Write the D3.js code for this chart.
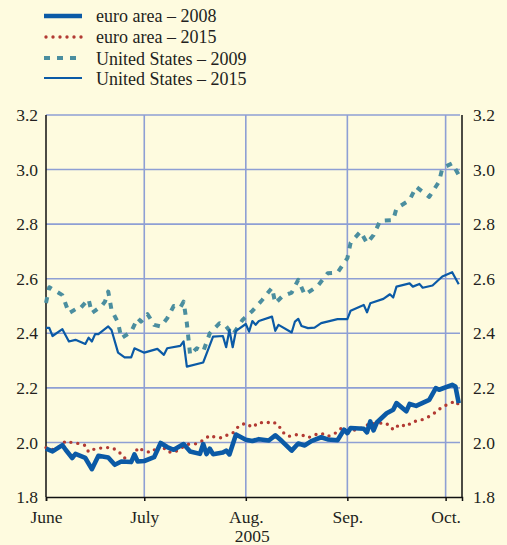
<!DOCTYPE html>
<html>
<head>
<meta charset="utf-8">
<script src="https://cdn.jsdelivr.net/npm/d3@7"></script>
<style>
  body { margin: 0; background: #fefbdf; }
  svg { display: block; }
  text { font-family: "Liberation Serif", "Times New Roman", serif; fill: #231f20; }
</style>
</head>
<body>
<div id="chart"></div>
<script>
// Series: [month-day in 2005, value]
const euro2008 = [
  ['06-01', 1.977], ['06-03', 1.967], ['06-06', 1.99], ['06-07', 1.973], ['06-09', 1.943],
  ['06-10', 1.958], ['06-13', 1.943], ['06-15', 1.902], ['06-17', 1.951], ['06-20', 1.945],
  ['06-22', 1.918], ['06-24', 1.93], ['06-27', 1.928], ['06-28', 1.956], ['06-29', 1.93],
  ['07-01', 1.932], ['07-04', 1.946], ['07-06', 1.998], ['07-08', 1.983], ['07-10', 1.973],
  ['07-13', 1.994], ['07-15', 1.967], ['07-18', 1.958], ['07-19', 1.994], ['07-20', 1.957],
  ['07-21', 1.977], ['07-22', 1.957], ['07-25', 1.963], ['07-26', 1.97], ['07-27', 1.956],
  ['07-29', 2.029], ['08-01', 2.01], ['08-03', 2.005], ['08-05', 2.012], ['08-08', 2.007],
  ['08-10', 2.026], ['08-12', 2.005], ['08-15', 1.97], ['08-17', 1.996], ['08-19', 1.989],
  ['08-21', 2.005], ['08-24', 2.019], ['08-26', 2.011], ['08-29', 2.008], ['08-31', 2.047],
  ['09-01', 2.034], ['09-02', 2.053], ['09-06', 2.05], ['09-07', 2.037], ['09-08', 2.077],
  ['09-09', 2.044], ['09-10', 2.073], ['09-13', 2.107], ['09-15', 2.12], ['09-16', 2.144],
  ['09-19', 2.114], ['09-20', 2.141], ['09-22', 2.134], ['09-26', 2.156], ['09-28', 2.199],
  ['09-29', 2.193], ['10-03', 2.211], ['10-04', 2.205], ['10-05', 2.144]
];

const euro2015 = [
  ['06-01', 1.981], ['06-03', 1.974], ['06-05', 1.984], ['06-07', 2.005], ['06-09', 1.999],
  ['06-11', 1.996], ['06-13', 1.989], ['06-14', 1.965], ['06-16', 1.977], ['06-19', 1.981],
  ['06-21', 1.981], ['06-23', 1.969], ['06-25', 1.943], ['06-27', 1.928], ['06-28', 1.951],
  ['06-29', 1.981], ['07-01', 1.969], ['07-03', 1.963], ['07-05', 1.981], ['07-06', 1.993],
  ['07-08', 1.966], ['07-10', 1.963], ['07-12', 1.977], ['07-14', 1.993], ['07-17', 1.995],
  ['07-19', 2.008], ['07-21', 2.026], ['07-23', 2.017], ['07-25', 2.017], ['07-27', 2.032],
  ['07-28', 2.034], ['07-30', 2.062], ['08-01', 2.07], ['08-03', 2.055], ['08-05', 2.074],
  ['08-07', 2.07], ['08-09', 2.077], ['08-11', 2.064], ['08-12', 2.04], ['08-14', 2.022],
  ['08-16', 2.028], ['08-18', 2.028], ['08-20', 2.017], ['08-22', 2.028], ['08-24', 2.034],
  ['08-26', 2.022], ['08-28', 2.031], ['08-30', 2.05], ['09-01', 2.043], ['09-04', 2.046],
  ['09-06', 2.056], ['09-08', 2.07], ['09-10', 2.067], ['09-12', 2.073], ['09-14', 2.062],
  ['09-15', 2.046], ['09-17', 2.067], ['09-19', 2.058], ['09-21', 2.077], ['09-23', 2.079],
  ['09-26', 2.095], ['09-28', 2.111], ['09-30', 2.131], ['10-02', 2.141], ['10-04', 2.152],
  ['10-05', 2.138]
];

const us2009 = [
  ['06-01', 2.511], ['06-02', 2.569], ['06-03', 2.562], ['06-06', 2.54], ['06-08', 2.474],
  ['06-10', 2.488], ['06-11', 2.486], ['06-14', 2.525], ['06-15', 2.474], ['06-18', 2.5],
  ['06-19', 2.516], ['06-20', 2.553], ['06-21', 2.486], ['06-23', 2.439], ['06-24', 2.382],
  ['06-27', 2.406], ['06-29', 2.455], ['06-30', 2.443], ['07-02', 2.47], ['07-04', 2.431],
  ['07-06', 2.425], ['07-08', 2.455], ['07-10', 2.5], ['07-12', 2.494], ['07-13', 2.516],
  ['07-14', 2.437], ['07-15', 2.321], ['07-17', 2.345], ['07-19', 2.333], ['07-21', 2.4],
  ['07-24', 2.437], ['07-26', 2.425], ['07-28', 2.394], ['07-31', 2.449], ['08-03', 2.482],
  ['08-06', 2.522], ['08-09', 2.567], ['08-10', 2.51], ['08-12', 2.534], ['08-15', 2.549],
  ['08-17', 2.596], ['08-19', 2.541], ['08-23', 2.574], ['08-26', 2.62], ['08-29', 2.622],
  ['09-01', 2.675], ['09-02', 2.732], ['09-05', 2.773], ['09-07', 2.73], ['09-09', 2.76],
  ['09-11', 2.812], ['09-15', 2.815], ['09-16', 2.858], ['09-20', 2.888], ['09-22', 2.937],
  ['09-26', 2.9], ['09-29', 2.956], ['09-30', 3.005], ['10-03', 3.023], ['10-05', 2.98]
];

const us2015 = [
  ['06-01', 2.42], ['06-02', 2.42], ['06-03', 2.39], ['06-06', 2.415], ['06-08', 2.37],
  ['06-10', 2.376], ['06-13', 2.361], ['06-14', 2.384], ['06-15', 2.37], ['06-16', 2.397],
  ['06-17', 2.397], ['06-20', 2.425], ['06-21', 2.412], ['06-23', 2.329], ['06-25', 2.312],
  ['06-27', 2.312], ['06-28', 2.345], ['07-01', 2.329], ['07-05', 2.343], ['07-07', 2.321],
  ['07-08', 2.345], ['07-12', 2.354], ['07-13', 2.37], ['07-14', 2.278], ['07-19', 2.293],
  ['07-22', 2.388], ['07-25', 2.39], ['07-26', 2.349], ['07-27', 2.412], ['07-28', 2.349],
  ['07-29', 2.409], ['08-01', 2.434], ['08-02', 2.406], ['08-03', 2.445], ['08-04', 2.431],
  ['08-05', 2.445], ['08-09', 2.461], ['08-10', 2.409], ['08-11', 2.431], ['08-15', 2.403],
  ['08-16', 2.443], ['08-17', 2.453], ['08-18', 2.427], ['08-20', 2.419], ['08-22', 2.421],
  ['08-24', 2.437], ['08-29', 2.452], ['09-01', 2.452], ['09-02', 2.483], ['09-06', 2.504],
  ['09-07', 2.477], ['09-08', 2.51], ['09-12', 2.526], ['09-14', 2.543], ['09-15', 2.531],
  ['09-16', 2.571], ['09-20', 2.583], ['09-21', 2.571], ['09-23', 2.581], ['09-24', 2.567],
  ['09-27', 2.575], ['09-30', 2.608], ['10-03', 2.624], ['10-05', 2.58]
];

const monthTicks = ['06-01', '07-01', '08-01', '09-01', '10-01'];
const monthLabels = ['June', 'July', 'Aug.', 'Sep.', 'Oct.'];
const yTicks = [1.8, 2.0, 2.2, 2.4, 2.6, 2.8, 3.0, 3.2];
const legendLabels = ['euro area – 2008', 'euro area – 2015', 'United States – 2009', 'United States – 2015'];

const parseDay = d3.timeParse('%Y-%m-%d');
const toDate = s => parseDay('2005-' + s);

const width = 507;
const height = 545;
const margin = { top: 115, right: 45, bottom: 48, left: 46 };
const innerWidth = width - margin.left - margin.right;
const innerHeight = height - margin.top - margin.bottom;

const svg = d3.select('#chart')
  .append('svg')
  .attr('width', width)
  .attr('height', height);

svg.append('rect')
  .attr('width', width)
  .attr('height', height)
  .attr('fill', '#fefbdf');

const g = svg.append('g')
  .attr('transform', `translate(${margin.left},${margin.top})`);

const x = d3.scaleTime()
  .domain([toDate('06-01'), toDate('10-06')])
  .range([0, innerWidth]);

const y = d3.scaleLinear()
  .domain([1.8, 3.2])
  .range([innerHeight, 0]);

const gridColor = '#8e9fd4';

// Horizontal gridlines
g.selectAll('.hgrid')
  .data(yTicks.filter(t => t > 1.8))
  .enter()
  .append('line')
  .attr('x1', 0)
  .attr('x2', innerWidth - 2)
  .attr('y1', d => y(d))
  .attr('y2', d => y(d))
  .attr('stroke', gridColor)
  .attr('stroke-width', 1.6);

// Vertical gridlines at month starts
g.selectAll('.vgrid')
  .data(monthTicks.slice(1))
  .enter()
  .append('line')
  .attr('x1', d => x(toDate(d)))
  .attr('x2', d => x(toDate(d)))
  .attr('y1', 0)
  .attr('y2', innerHeight)
  .attr('stroke', gridColor)
  .attr('stroke-width', 1.6);

// Frame: left, right, bottom in black
g.append('line')
  .attr('x1', 0).attr('x2', 0)
  .attr('y1', 0).attr('y2', innerHeight)
  .attr('stroke', '#111').attr('stroke-width', 1.5);
g.append('line')
  .attr('x1', innerWidth).attr('x2', innerWidth)
  .attr('y1', 0).attr('y2', innerHeight)
  .attr('stroke', '#111').attr('stroke-width', 1.5);

// Series styles
const series = [
  { data: euro2008, color: '#0b5aa6', width: 4.6, dash: null, cap: 'butt' },
  { data: euro2015, color: '#b23a33', width: 3.4, dash: '0 7', cap: 'round' },
  { data: us2009, color: '#4b8e9f', width: 4, dash: '6 7', cap: 'butt' },
  { data: us2015, color: '#0b5aa6', width: 2.2, dash: null, cap: 'butt' }
];

const line = d3.line()
  .x(d => x(toDate(d[0])))
  .y(d => y(d[1]));

// draw order: US lines first, euro on top
[series[2], series[3], series[1], series[0]].forEach(s => {
  g.append('path')
    .datum(s.data)
    .attr('d', line)
    .attr('fill', 'none')
    .attr('stroke', s.color)
    .attr('stroke-width', s.width)
    .attr('stroke-linejoin', 'round')
    .attr('stroke-linecap', s.cap)
    .attr('stroke-dasharray', s.dash);
});

// Bottom axis with month ticks
const xAxis = d3.axisBottom(x)
  .tickValues(monthTicks.map(toDate))
  .tickSize(4)
  .tickFormat((d, i) => monthLabels[i]);

const xg = g.append('g')
  .attr('transform', `translate(0,${innerHeight})`)
  .call(xAxis);
xg.select('.domain').attr('stroke', '#111').attr('stroke-width', 1.5);
xg.selectAll('.tick line').attr('stroke', '#111').attr('stroke-width', 1.5);
xg.selectAll('.tick text')
  .attr('dy', '1.1em')
  .style('font-family', '"Liberation Serif", serif')
  .style('font-size', '17.5px')
  .attr('fill', '#231f20');

g.append('text')
  .attr('x', x(toDate('08-03')))
  .attr('y', innerHeight + 45)
  .attr('text-anchor', 'middle')
  .style('font-size', '17.5px')
  .text('2005');

// Y labels on both sides
const yLeft = d3.axisLeft(y).tickValues(yTicks).tickSize(0).tickPadding(8).tickFormat(d3.format('.1f'));
const yRight = d3.axisRight(y).tickValues(yTicks).tickSize(0).tickPadding(11).tickFormat(d3.format('.1f'));

[g.append('g').call(yLeft), g.append('g').attr('transform', `translate(${innerWidth},0)`).call(yRight)]
  .forEach(ax => {
    ax.select('.domain').remove();
    ax.selectAll('.tick text')
      .style('font-family', '"Liberation Serif", serif')
      .style('font-size', '17.5px')
      .attr('fill', '#231f20');
  });

// Legend
const legend = svg.append('g').attr('class', 'legend');
const legendY = [16, 37, 58, 78];
const legendBase = [22, 43, 64.5, 85];

legend.selectAll('line')
  .data(series)
  .enter()
  .append('line')
  .attr('x1', (d, i) => i === 1 ? 46 : 44)
  .attr('x2', 82)
  .attr('y1', (d, i) => legendY[i])
  .attr('y2', (d, i) => legendY[i])
  .attr('stroke', d => d.color)
  .attr('stroke-width', d => d.width)
  .attr('stroke-linecap', d => d.cap)
  .attr('stroke-dasharray', d => d.dash);

legend.selectAll('text')
  .data(legendLabels)
  .enter()
  .append('text')
  .attr('x', 96)
  .attr('y', (d, i) => legendBase[i])
  .style('font-size', '18px')
  .text(d => d);
</script>
</body>
</html>
